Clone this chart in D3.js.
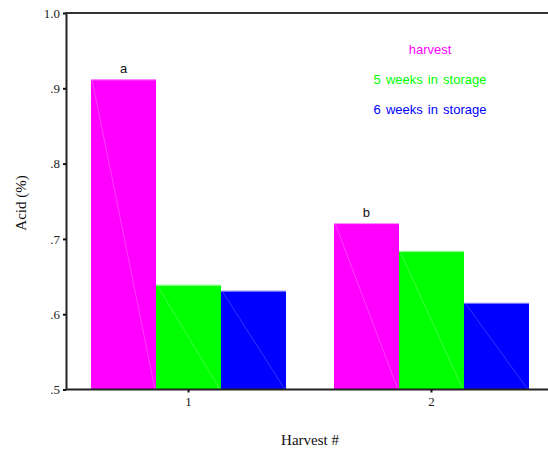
<!DOCTYPE html>
<html>
<head>
<meta charset="utf-8">
<script src="https://cdn.jsdelivr.net/npm/d3@7"></script>
<style>
  html, body { margin: 0; padding: 0; background: #fff; }
  svg { display: block; }
</style>
</head>
<body>
<script>
// ---- data ----
const harvests = ["1", "2"];
const seriesNames = ["harvest", "5 weeks in storage", "6 weeks in storage"];
const harvestValues = [0.912, 0.721];
const weeks5Values = [0.639, 0.684];
const weeks6Values = [0.631, 0.615];
const letters = ["a", "b"];
const yTicks = [0.5, 0.6, 0.7, 0.8, 0.9, 1.0];
const yTickLabels = [".5", ".6", ".7", ".8", ".9", "1.0"];
const colors = ["#ff00ff", "#00ff00", "#0000ff"];
const lineColors = ["#ff99ff", "#99ff99", "#8080ff"];

const W = 548, H = 457;
const svg = d3.select("body").append("svg").attr("width", W).attr("height", H);

const plotLeft = 66, plotTop = 13, plotBottom = 389.5;
const y = d3.scaleLinear().domain([0.5, 1.0]).range([plotBottom, plotTop]);
const x0 = d3.scaleBand().domain(harvests).range([plotLeft, 554]).paddingInner(0.1975).paddingOuter(0.103);
const x1 = d3.scaleBand().domain(seriesNames).range([0, x0.bandwidth()]);

const seriesValues = [harvestValues, weeks5Values, weeks6Values];
const rows = [];
harvests.forEach((h, i) => seriesNames.forEach((s, j) => rows.push({h, s, j, v: seriesValues[j][i]})));

const g = svg.append("g");
const bars = g.selectAll("g.bar").data(rows).enter().append("g").attr("class", "bar");
bars.append("rect")
  .attr("x", d => x0(d.h) + x1(d.s))
  .attr("y", d => y(d.v))
  .attr("width", x1.bandwidth())
  .attr("height", d => y(0.5) - y(d.v))
  .attr("fill", d => colors[d.j]);
bars.append("line")
  .attr("x1", d => x0(d.h) + x1(d.s) + 1)
  .attr("y1", d => y(d.v))
  .attr("x2", d => x0(d.h) + x1(d.s) + x1.bandwidth() - 1)
  .attr("y2", y(0.5))
  .attr("stroke", d => lineColors[d.j])
  .attr("stroke-width", 0.5)
  .attr("opacity", 0.8);
bars.append("line")
  .attr("x1", d => x0(d.h) + x1(d.s))
  .attr("x2", d => x0(d.h) + x1(d.s) + x1.bandwidth())
  .attr("y1", d => y(d.v) + 0.5)
  .attr("y2", d => y(d.v) + 0.5)
  .attr("stroke", d => lineColors[d.j])
  .attr("stroke-width", 1);

// letters
g.selectAll("text.letter").data(harvests).enter().append("text")
  .attr("x", (h) => x0(h) + x1(seriesNames[0]) + x1.bandwidth() / 2)
  .attr("y", (h, i) => y(harvestValues[i]) - 6)
  .attr("text-anchor", "middle")
  .attr("font-family", "Liberation Sans, Arial, sans-serif")
  .attr("font-size", 13)
  .attr("fill", "#111")
  .text((h, i) => letters[i]);

// y axis
const yAxis = d3.axisLeft(y).tickValues(yTicks).tickSize(3).tickSizeOuter(0)
  .tickFormat((d, i) => yTickLabels[i]);
const ya = svg.append("g").attr("transform", `translate(${plotLeft},0)`).call(yAxis);
ya.select(".domain").attr("stroke", "#222").attr("stroke-width", 2);
ya.selectAll(".tick line").attr("stroke", "#111").attr("stroke-width", 2);
ya.selectAll(".tick text").attr("font-family", "Liberation Serif, Times New Roman, serif")
  .attr("font-size", 13).attr("fill", "#222").attr("x", -6);

// x axis
const xAxis = d3.axisBottom(x0).tickSize(3).tickSizeOuter(0);
const xa = svg.append("g").attr("transform", `translate(0,${plotBottom})`).call(xAxis);
xa.select(".domain").attr("stroke", "#222").attr("stroke-width", 2)
  .attr("d", `M${plotLeft},0H${W}`);
xa.selectAll(".tick line").attr("stroke", "#111").attr("stroke-width", 2);
xa.selectAll(".tick text").attr("font-family", "Liberation Serif, Times New Roman, serif")
  .attr("font-size", 13).attr("fill", "#222").attr("y", 7);

// top border
svg.append("line").attr("x1", plotLeft - 1).attr("x2", W).attr("y1", y(1.0)).attr("y2", y(1.0))
  .attr("stroke", "#333").attr("stroke-width", 2);

// axis titles
svg.append("text").attr("x", 310).attr("y", 445).attr("text-anchor", "middle")
  .attr("font-family", "Liberation Serif, Times New Roman, serif").attr("font-size", 15)
  .attr("fill", "#111").text("Harvest #");
svg.append("text").attr("transform", "translate(26,203) rotate(-90)").attr("text-anchor", "middle")
  .attr("font-family", "Liberation Serif, Times New Roman, serif").attr("font-size", 15)
  .attr("fill", "#111").text("Acid (%)");

// legend
svg.selectAll("text.legend").data(seriesNames).enter().append("text")
  .attr("x", 430).attr("y", (d, i) => 54 + i * 30)
  .attr("text-anchor", "middle")
  .attr("font-family", "Liberation Sans, Arial, sans-serif").attr("font-size", 13)
  .attr("word-spacing", 1.5)
  .attr("fill", (d, i) => colors[i])
  .text(d => d);
</script>
</body>
</html>
